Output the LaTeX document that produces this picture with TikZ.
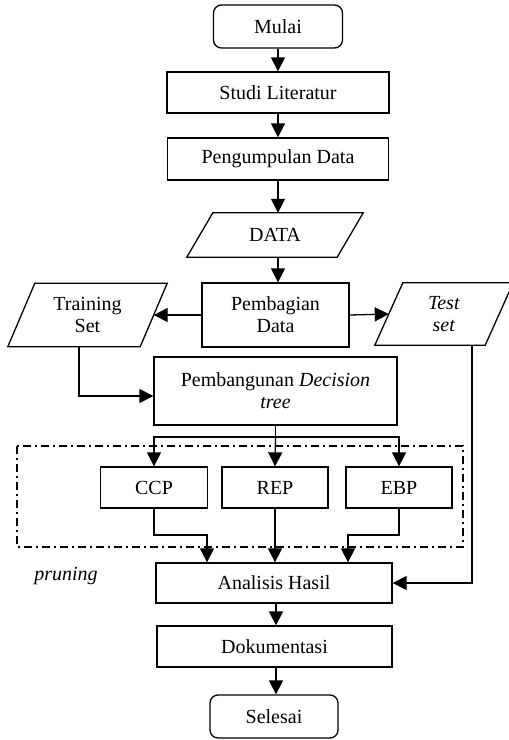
\documentclass[tikz,border=0pt]{standalone}
\usepackage{fontspec}
\setmainfont{Liberation Serif}
\usetikzlibrary{arrows.meta}
\begin{document}
\begin{tikzpicture}[x=1pt,y=-1pt,
  font=\fontsize{20}{22}\selectfont,
  every node/.style={inner sep=0pt, align=center},
  box/.style={draw, line width=1.3pt, rectangle},
  term/.style={draw, line width=1.3pt, rectangle, rounded corners=8pt},
  para/.style={rectangle},
  conn/.style={line width=1.3pt},
  arr/.style={line width=1.3pt, -{Triangle[width=14pt,length=14pt]}},
  paraline/.style={line width=1.3pt, line join=miter}
]
\useasboundingbox (0,0) rectangle (509,740);

\node[term, minimum width=129pt, minimum height=43pt] (mulai) at (278,26.5) {Mulai};
\node[box, minimum width=222pt, minimum height=41pt] (studi) at (278,92.5) {Studi Literatur};
\node[box, minimum width=221pt, minimum height=42pt] (kumpul) at (278,159) {Pengumpulan Data};
\node[para, minimum width=150pt, minimum height=44pt] (data) at (275,235) {DATA};
\node[box, minimum width=147pt, minimum height=64pt] (bagi) at (275.5,315) {Pembagian\\Data};
\node[para, minimum width=132pt, minimum height=63pt] (train) at (87.5,315) {Training\\Set};
\node[para, minimum width=110pt, minimum height=62pt] (test) at (444,314) {\textit{Test}\\\textit{set}};
\node[box, minimum width=243pt, minimum height=68pt] (bangun) at (275.5,391) {Pembangunan \textit{Decision}\\\textit{tree}};
\node[box, minimum width=107pt, minimum height=41pt] (ccp) at (154,487.5) {CCP};
\node[box, minimum width=106pt, minimum height=41pt] (rep) at (275,487.5) {REP};
\node[box, minimum width=106pt, minimum height=41pt] (ebp) at (399,487.5) {EBP};
\node[box, minimum width=236pt, minimum height=40pt] (anal) at (274,583) {Analisis Hasil};
\node[box, minimum width=235pt, minimum height=41pt] (dok) at (274.5,646.5) {Dokumentasi};
\node[term, minimum width=128pt, minimum height=43pt] (selesai) at (274,716.5) {Selesai};
\node (prun) at (66,576) {\textit{pruning}};

% parallelograms
\draw[paraline] ([xshift=13pt]data.north west) -- ([xshift=13pt]data.north east) -- ([xshift=-13pt]data.south east) -- ([xshift=-13pt]data.south west) -- cycle;
\draw[paraline] ([xshift=13.5pt]train.north west) -- ([xshift=13.5pt]train.north east) -- ([xshift=-13.5pt]train.south east) -- ([xshift=-13.5pt]train.south west) -- cycle;
\draw[paraline] ([xshift=14pt]test.north west) -- ([xshift=14pt]test.north east) -- ([xshift=-14pt]test.south east) -- ([xshift=-14pt]test.south west) -- cycle;

% pruning frame
\draw[line width=1.2pt, dash pattern=on 8pt off 4pt on 2pt off 4pt] (17,446) rectangle (463,547);

% connectors
\draw[arr] (mulai) -- (studi);
\draw[arr] (studi) -- (kumpul);
\draw[arr] (kumpul.south) -- (kumpul.south |- data.north);
\draw[arr] (kumpul.south |- data.south) -- (kumpul.south |- bagi.north);
\draw[arr] (bagi.west) -- (train.east);
\draw[arr] (bagi.east) -- (test.west);
\draw[arr] ([xshift=-8.5pt]train.south) |- ([yshift=-5pt]bangun.west);

\coordinate (br) at (bangun.south |- 0,437);
\draw[conn] (bangun.south) -- (br);
\draw[arr] (br) -| (ccp.north);
\draw[arr] (br) -- (rep.north);
\draw[arr] (br) -| (ebp.north);

\coordinate (cj) at (ccp.south |- 0,535);
\coordinate (ej) at (ebp.south |- 0,535);
\draw[arr] (ccp.south) -- (cj) -| ([xshift=-67pt]anal.north);
\draw[arr] (rep.south) -- (rep.south |- anal.north);
\draw[arr] (ebp.south) -- (ej) -| ([xshift=74pt]anal.north);
\draw[arr] ([xshift=28pt]test.south) |- (anal.east);

\draw[arr] (anal.south -| 276,0) -- (dok.north -| 276,0);
\draw[arr] (dok.south -| 276,0) -- (selesai.north -| 276,0);
\end{tikzpicture}
\end{document}
